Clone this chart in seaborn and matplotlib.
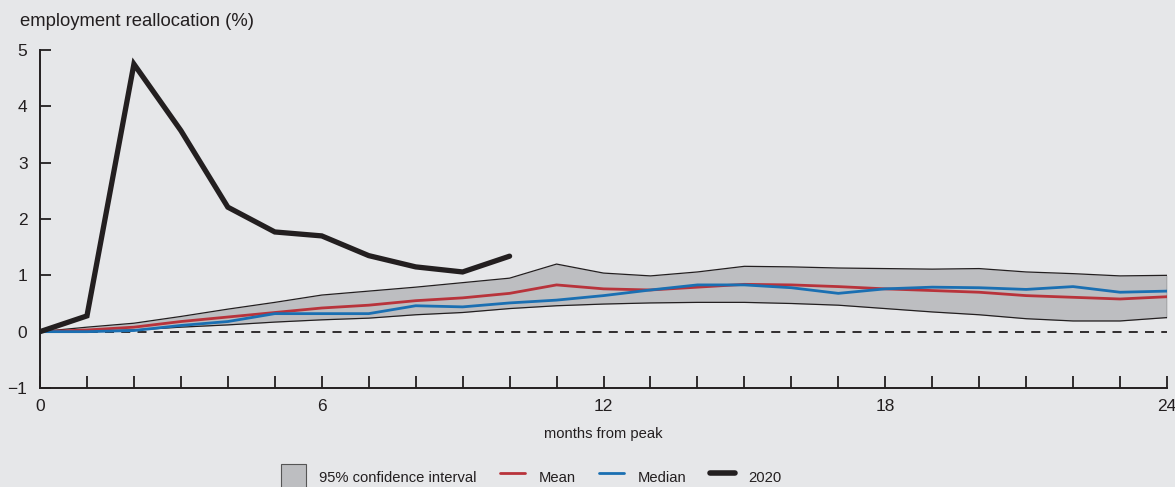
import numpy as np
import pandas as pd
import matplotlib
matplotlib.use("Agg")
import matplotlib.pyplot as plt
import seaborn as sns
from matplotlib.patches import Patch
from matplotlib.lines import Line2D

months = list(range(25))
ci_upper = [0.0, 0.08, 0.15, 0.27, 0.40, 0.52, 0.65, 0.72, 0.79, 0.87, 0.95, 1.20, 1.04,
            0.99, 1.06, 1.16, 1.15, 1.13, 1.12, 1.11, 1.12, 1.06, 1.03, 0.99, 1.00]
ci_lower = [0.0, 0.01, 0.03, 0.08, 0.12, 0.17, 0.21, 0.24, 0.30, 0.34, 0.41, 0.46, 0.49,
            0.51, 0.52, 0.52, 0.50, 0.47, 0.41, 0.35, 0.30, 0.23, 0.19, 0.19, 0.25]
mean_vals = [0.0, 0.03, 0.08, 0.18, 0.26, 0.34, 0.42, 0.47, 0.55, 0.60, 0.68, 0.83, 0.76,
             0.74, 0.79, 0.84, 0.83, 0.80, 0.76, 0.73, 0.70, 0.64, 0.61, 0.58, 0.62]
median_vals = [0.0, 0.0, 0.02, 0.11, 0.18, 0.32, 0.32, 0.32, 0.46, 0.44, 0.51, 0.56, 0.64,
               0.74, 0.83, 0.83, 0.78, 0.68, 0.76, 0.79, 0.78, 0.75, 0.80, 0.70, 0.72]
months_2020 = list(range(11))
vals_2020 = [0.0, 0.28, 4.75, 3.57, 2.21, 1.77, 1.70, 1.35, 1.15, 1.06, 1.34]

x_ticks = [0, 6, 12, 18, 24]
y_ticks = [-1, 0, 1, 2, 3, 4, 5]

BG = "#e6e7e9"
CI_COLOR = "#bdbec1"
RED = "#b8333b"
BLUE = "#1a6fb2"
BLACK = "#231f20"

sns.set_theme(style="white")
plt.rcParams["font.family"] = ["Liberation Sans", "DejaVu Sans"]
plt.rcParams["font.size"] = 12.5

fig = plt.figure(figsize=(11.75, 4.87), dpi=100, facecolor=BG)
ax = fig.add_axes([40 / 1175, 99 / 487, 1127 / 1175, 338 / 487])
ax.set_facecolor(BG)

df = pd.DataFrame({"month": months, "upper": ci_upper, "lower": ci_lower,
                   "mean": mean_vals, "median": median_vals})
df20 = pd.DataFrame({"month": months_2020, "value": vals_2020})

ax.fill_between(df["month"], df["lower"], df["upper"], color=CI_COLOR, lw=0, zorder=1)
sns.lineplot(data=df, x="month", y="upper", ax=ax, color=BLACK, lw=0.9, zorder=2)
sns.lineplot(data=df, x="month", y="lower", ax=ax, color=BLACK, lw=0.9, zorder=2)
ax.plot([24, 24], [ci_lower[-1], ci_upper[-1]], color=BLACK, lw=0.9, zorder=2)
ax.axhline(0, color=BLACK, lw=1.3, ls=(0, (5, 4)), zorder=2)
sns.lineplot(data=df, x="month", y="mean", ax=ax, color=RED, lw=2.0, zorder=3)
sns.lineplot(data=df, x="month", y="median", ax=ax, color=BLUE, lw=2.0, zorder=4)
sns.lineplot(data=df20, x="month", y="value", ax=ax, color=BLACK, lw=3.8, zorder=5,
             solid_joinstyle="miter")

ax.set_xlim(0, 24)
ax.set_ylim(-1, 5)
ax.set_xticks(range(25))
ax.set_xticklabels([str(m) if m in x_ticks else "" for m in range(25)])
ax.set_yticks(y_ticks)
ax.set_yticklabels(["\u22121" if v < 0 else str(v) for v in y_ticks])
ax.tick_params(axis="x", direction="in", length=9, width=1.3, color=BLACK, pad=8,
               labelsize=12.5, labelcolor=BLACK, bottom=True)
ax.tick_params(axis="y", direction="in", length=8, width=1.3, color=BLACK, pad=9,
               labelsize=12.5, labelcolor=BLACK, left=True)
for s in ["top", "right"]:
    ax.spines[s].set_visible(False)
for s in ["left", "bottom"]:
    ax.spines[s].set_color(BLACK)
    ax.spines[s].set_linewidth(1.4)
ax.set_xlabel("months from peak", fontsize=10.6, color=BLACK, labelpad=9)
ax.set_ylabel("")
fig.text(20 / 1175, 1 - 22 / 487, "employment reallocation (%)", fontsize=13.3,
         color=BLACK, ha="left", va="center")

handles = [Patch(facecolor=CI_COLOR, edgecolor="#555555", lw=0.8),
           Line2D([], [], color=RED, lw=2.0),
           Line2D([], [], color=BLUE, lw=2.0),
           Line2D([], [], color=BLACK, lw=4.0)]
labels = ["95% confidence interval", "Mean", "Median", "2020"]
fig.legend(handles, labels, loc="center", bbox_to_anchor=(531 / 1175, 10 / 487), ncol=4,
           frameon=False, handlelength=1.7, handleheight=2.3, columnspacing=1.6,
           handletextpad=0.9, fontsize=10.6, labelcolor=BLACK, borderpad=0)

fig.savefig("out.png", dpi=100, facecolor=BG)
